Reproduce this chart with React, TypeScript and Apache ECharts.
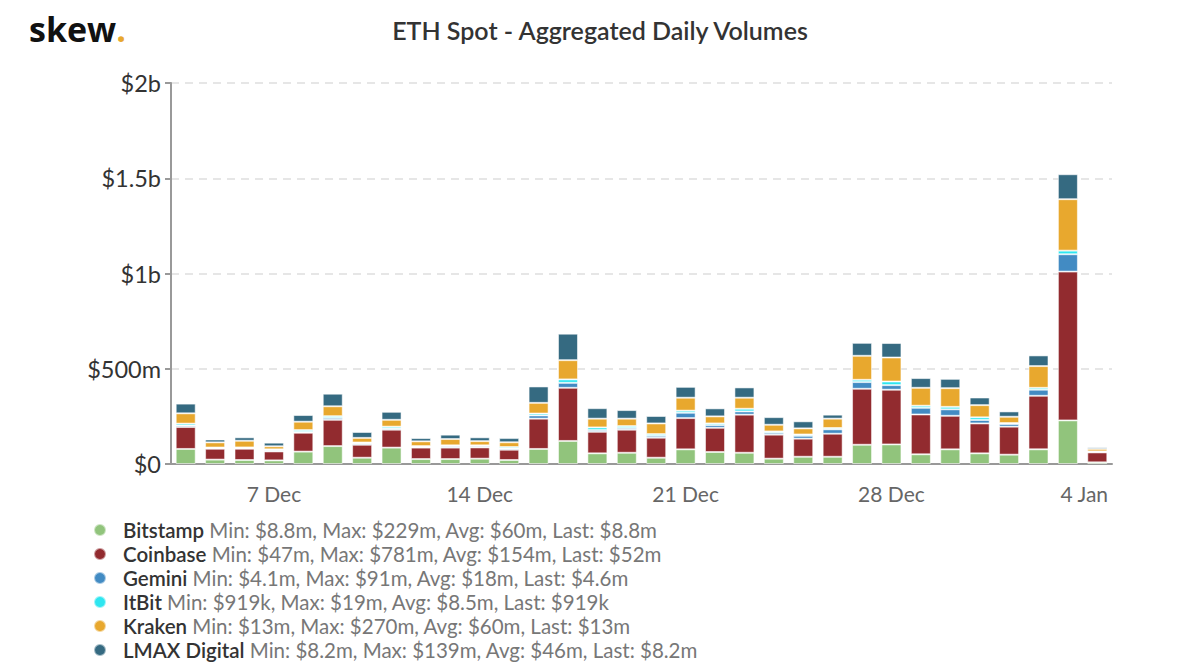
import React, { useEffect, useRef } from "react";
import * as echarts from "echarts";

const dates = [
  "4 Dec", "5 Dec", "6 Dec", "7 Dec", "8 Dec", "9 Dec", "10 Dec", "11 Dec",
  "12 Dec", "13 Dec", "14 Dec", "15 Dec", "16 Dec", "17 Dec", "18 Dec", "19 Dec",
  "20 Dec", "21 Dec", "22 Dec", "23 Dec", "24 Dec", "25 Dec", "26 Dec", "27 Dec",
  "28 Dec", "29 Dec", "30 Dec", "31 Dec", "1 Jan", "2 Jan", "3 Jan", "4 Jan",
];

// values in $ millions
const bitstamp = [79, 23, 21, 19, 65, 94, 33, 86, 26, 26, 28, 21, 79, 121, 56, 59, 33, 77, 63, 59, 28, 38, 38, 101, 103, 51, 77, 56, 49, 77, 229, 8.8];
const coinbase = [115, 57, 59, 47, 99, 138, 68, 94, 60, 60, 59, 54, 159, 279, 113, 121, 105, 164, 127, 200, 126, 95, 121, 294, 287, 209, 176, 157, 147, 281, 781, 52];
const gemini = [8, 4.1, 4.5, 6, 5, 10, 7, 7, 5, 7, 7, 7, 17, 26, 9, 9, 10, 28, 14, 17, 10, 15, 23, 35, 24, 35, 34, 18, 14, 32, 91, 4.6];
const itbit = [10, 2.5, 2.5, 5, 9, 9, 5, 9, 3, 5, 4, 7, 10, 18, 14, 10, 9, 11, 9, 14, 7, 7, 7, 12, 19, 11, 13, 14, 5, 10, 19, 0.919];
const kraken = [54, 27, 35, 16, 44, 52, 24, 36, 25, 33, 22, 25, 56, 101, 46, 39, 56, 68, 37, 58, 35, 32, 49, 126, 126, 94, 98, 64, 33, 114, 270, 13];
const lmax = [51, 15, 18, 19, 35, 66, 31, 42, 17, 23, 20, 22, 86, 139, 55, 45, 39, 57, 42, 54, 40, 37, 21, 68, 76, 51, 49, 40, 28, 56, 131, 8.2];

const seriesNames = ["Bitstamp", "Coinbase", "Gemini", "ItBit", "Kraken", "LMAX Digital"];
const seriesColors = ["#91c47c", "#922b2f", "#428bc3", "#2ee6f0", "#e8a82e", "#356a81"];
const seriesStats = [
  "Min: $8.8m, Max: $229m, Avg: $60m, Last: $8.8m",
  "Min: $47m, Max: $781m, Avg: $154m, Last: $52m",
  "Min: $4.1m, Max: $91m, Avg: $18m, Last: $4.6m",
  "Min: $919k, Max: $19m, Avg: $8.5m, Last: $919k",
  "Min: $13m, Max: $270m, Avg: $60m, Last: $13m",
  "Min: $8.2m, Max: $139m, Avg: $46m, Last: $8.2m",
];

const yTickValues = [0, 500, 1000, 1500, 2000];
const yTickLabels = ["$0", "$500m", "$1b", "$1.5b", "$2b"];
const xLabelIndices = [3, 10, 17, 24, 31];

const title = "ETH Spot - Aggregated Daily Volumes";

export default function App() {
  const ref = useRef<HTMLDivElement>(null);
  useEffect(() => {
    if (!ref.current) return;
    const chart = echarts.init(ref.current, null, { renderer: "svg" });
    const allData = [bitstamp, coinbase, gemini, itbit, kraken, lmax];
    const lastIdx = dates.length - 1;
    const option = {
      animation: false,
      backgroundColor: "#ffffff",
      title: {
        text: title,
        left: "center",
        top: 12,
        textStyle: {
          fontFamily: "Lato",
          fontSize: 25,
          fontWeight: 600,
          color: "#333333",
        },
      },
      graphic: [
        {
          type: "text",
          left: 29,
          top: 12,
          style: {
            text: "{a|skew}{b|.}",
            rich: {
              a: { fontFamily: "Open Sans", fontWeight: "bold", fontSize: 34, fill: "#111111" },
              b: { fontFamily: "Open Sans", fontWeight: "bold", fontSize: 34, fill: "#e8a82e" },
            },
          },
        },
      ],
      legend: {
        orient: "vertical",
        left: 93,
        top: 518,
        padding: 0,
        icon: "circle",
        itemWidth: 12,
        itemHeight: 12,
        itemGap: 0,
        data: seriesNames,
        selectedMode: false,
        formatter: (name: string) => {
          const i = seriesNames.indexOf(name);
          return `{n|${name}} {s|${seriesStats[i]}}`;
        },
        textStyle: {
          fontFamily: "Lato",
          fontSize: 20.5,
          lineHeight: 24,
          rich: {
            n: { fontFamily: "Lato", fontSize: 20.5, fontWeight: 600, color: "#333333", lineHeight: 24, padding: [0, 0, 0, 12] },
            s: { fontFamily: "Lato", fontSize: 20.5, color: "#777777", lineHeight: 24 },
          },
        },
      },
      grid: {
        left: 171,
        right: 88,
        top: 83,
        bottom: 206,
        containLabel: false,
      },
      xAxis: {
        type: "category",
        data: dates,
        boundaryGap: true,
        axisLine: { lineStyle: { color: "#999999", width: 2 } },
        axisTick: {
          alignWithLabel: true,
          length: 6,
          interval: (i: number) => xLabelIndices.includes(i),
          lineStyle: { color: "#999999", width: 2 },
        },
        axisLabel: {
          interval: (i: number) => xLabelIndices.includes(i),
          fontFamily: "Lato",
          fontSize: 21,
          color: "#666666",
          margin: 19,
          formatter: (v: string, i: number) => (i === lastIdx ? `{last|${v}}` : v),
          rich: {
            last: { fontFamily: "Lato", fontSize: 21, color: "#666666", padding: [0, 26, 0, 0] },
          },
        },
      },
      yAxis: {
        type: "value",
        min: 0,
        max: 2000,
        interval: 500,
        axisLine: { show: true, lineStyle: { color: "#999999", width: 2 } },
        axisTick: { show: true, length: 6, lineStyle: { color: "#999999", width: 2 } },
        axisLabel: {
          fontFamily: "Lato",
          fontSize: 23.5,
          color: "#333333",
          margin: 10,
          formatter: (v: number) => {
            const i = yTickValues.indexOf(v);
            return i >= 0 ? yTickLabels[i] : "";
          },
        },
        splitLine: { lineStyle: { color: "#e6e6e6", type: [8, 6], width: 2 } },
      },
      series: seriesNames.map((name, i) => ({
        name,
        type: "bar",
        stack: "total",
        barWidth: 20,
        data: allData[i],
        itemStyle: {
          color: seriesColors[i],
          borderColor: "rgba(255,255,255,0.55)",
          borderWidth: 1,
        },
      })),
    };
    chart.setOption(option as any);
    return () => chart.dispose();
  }, []);
  return (
    <div
      ref={ref}
      style={{ position: "fixed", left: 0, top: 0, width: 1200, height: 670 }}
    />
  );
}
